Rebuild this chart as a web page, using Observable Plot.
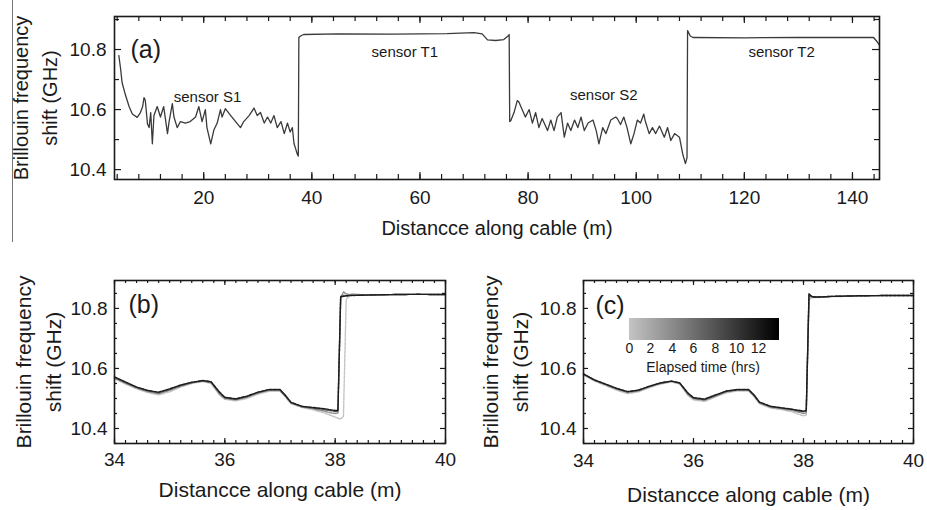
<!DOCTYPE html>
<html><head><meta charset="utf-8">
<script src="https://cdn.jsdelivr.net/npm/d3@7"></script>
<script src="https://cdn.jsdelivr.net/npm/@observablehq/plot@0.6"></script>
<style>
html,body{margin:0;padding:0;background:#fff;}
#root{position:relative;width:927px;height:510px;overflow:hidden;font-family:"Liberation Sans",Arial,sans-serif;color:#1a1a1a;}
.abs{position:absolute;}
svg{overflow:visible;}
</style></head><body><div id="root"></div>
<script>
// ---------- DATA ----------
// Panel (a): full cable trace
const distA = [4.3,4.6,4.9,5.5,6.2,6.8,7.7,8.3,8.7,8.96,9.2,9.6,9.9,10.2,10.5,10.8,11.4,12.0,12.6,13.3,13.6,14.2,14.5,15.1,15.7,16.6,17.5,18.5,19.1,19.7,20.3,20.6,21.3,21.9,22.5,23.1,23.4,24.0,25.0,25.9,26.8,27.4,28.4,29.3,29.9,30.5,31.2,31.8,32.4,33.0,33.6,34.3,34.9,35.5,36.0,36.4,36.7,37.0,37.3,37.5,
  37.6,37.9,38.5,45,55,65,70,71.5,72.5,74,75.5,76.3,76.5,
  76.6,76.8,77.4,78.0,78.3,78.9,79.5,80.2,80.8,81.4,82.0,82.6,83.6,84.2,84.8,85.4,86.1,86.7,87.3,87.9,88.6,89.2,89.8,90.4,91.1,92.0,92.6,93.1,93.8,94.4,95.3,96.2,96.5,97.1,97.7,98.3,99.0,99.6,100.2,100.8,101.4,101.7,102.4,103.0,103.6,104.3,105.2,105.8,106.4,107.1,108.0,108.6,109.1,109.4,
  109.5,110.0,110.5,120,130,140,143.9,144.6,145];
const bfsA = [10.78,10.74,10.69,10.65,10.61,10.585,10.574,10.59,10.61,10.64,10.63,10.552,10.54,10.59,10.486,10.58,10.61,10.575,10.61,10.52,10.56,10.62,10.575,10.54,10.56,10.555,10.56,10.575,10.61,10.56,10.6,10.54,10.486,10.533,10.555,10.6,10.575,10.603,10.58,10.56,10.54,10.56,10.58,10.605,10.58,10.59,10.555,10.575,10.555,10.58,10.54,10.56,10.52,10.555,10.525,10.54,10.487,10.47,10.452,10.445,
  10.84,10.845,10.85,10.852,10.851,10.853,10.856,10.852,10.832,10.83,10.833,10.845,10.85,
  10.56,10.563,10.59,10.63,10.625,10.6,10.575,10.6,10.555,10.59,10.54,10.57,10.53,10.565,10.53,10.575,10.59,10.508,10.555,10.53,10.565,10.54,10.575,10.53,10.555,10.565,10.53,10.486,10.54,10.52,10.565,10.575,10.57,10.55,10.575,10.54,10.486,10.52,10.565,10.555,10.585,10.56,10.52,10.54,10.52,10.545,10.508,10.54,10.497,10.52,10.508,10.452,10.42,10.44,
  10.863,10.845,10.84,10.839,10.84,10.84,10.84,10.825,10.815];
const sensorNames = ["sensor S1","sensor T1","sensor S2","sensor T2"];
const sensorAtDist = [20.7,57.2,94.0,126.9];
const sensorAtBfs = [10.64,10.79,10.647,10.79];

// Panels (b), (c): zoom 34-40 m, traces at several elapsed times (hrs)
const elapsedHrs = [0,4,8,12];
const distZoom = [34.0,34.2,34.4,34.6,34.8,35.0,35.2,35.4,35.6,35.75,35.9,36.0,36.2,36.4,36.6,36.8,37.0,37.1,37.2,37.4,37.6,37.8,37.9,38.0,38.05,38.1,38.15,38.2,38.3,38.5,39.0,39.5,40.0];
const bfsB0h  = [10.565,10.548,10.532,10.520,10.512,10.522,10.538,10.550,10.556,10.550,10.512,10.497,10.492,10.500,10.514,10.524,10.524,10.504,10.482,10.470,10.462,10.452,10.445,10.438,10.434,10.432,10.440,10.830,10.850,10.845,10.846,10.847,10.846];
const bfsB4h  = [10.568,10.551,10.535,10.523,10.516,10.527,10.541,10.552,10.558,10.553,10.516,10.500,10.495,10.504,10.518,10.527,10.527,10.507,10.485,10.472,10.466,10.458,10.453,10.450,10.452,10.835,10.855,10.848,10.845,10.845,10.846,10.847,10.846];
const bfsB8h  = [10.570,10.553,10.537,10.526,10.519,10.530,10.543,10.553,10.559,10.555,10.520,10.502,10.497,10.506,10.520,10.529,10.529,10.509,10.486,10.473,10.468,10.463,10.460,10.457,10.458,10.840,10.843,10.842,10.844,10.845,10.846,10.847,10.846];
const bfsB12h = [10.572,10.555,10.538,10.527,10.521,10.532,10.545,10.554,10.560,10.556,10.522,10.504,10.499,10.508,10.521,10.530,10.530,10.510,10.487,10.474,10.470,10.466,10.463,10.460,10.460,10.838,10.840,10.842,10.843,10.844,10.846,10.847,10.846];
const bfsC0h  = [10.578,10.558,10.543,10.528,10.516,10.522,10.536,10.548,10.555,10.548,10.510,10.495,10.490,10.505,10.519,10.525,10.525,10.506,10.482,10.468,10.463,10.455,10.448,10.442,10.445,10.830,10.835,10.836,10.837,10.839,10.841,10.843,10.843];
const bfsC4h  = [10.580,10.560,10.546,10.531,10.520,10.525,10.539,10.550,10.557,10.550,10.514,10.499,10.494,10.508,10.522,10.528,10.528,10.509,10.485,10.471,10.466,10.460,10.455,10.450,10.452,10.840,10.838,10.837,10.838,10.840,10.842,10.843,10.843];
const bfsC8h  = [10.581,10.561,10.547,10.533,10.522,10.527,10.540,10.551,10.558,10.551,10.516,10.501,10.496,10.510,10.524,10.529,10.529,10.511,10.487,10.473,10.468,10.463,10.459,10.456,10.458,10.845,10.840,10.838,10.838,10.840,10.842,10.843,10.843];
const bfsC12h = [10.582,10.562,10.548,10.534,10.523,10.528,10.541,10.552,10.558,10.552,10.518,10.503,10.498,10.512,10.525,10.530,10.530,10.512,10.488,10.474,10.469,10.464,10.461,10.458,10.460,10.849,10.840,10.838,10.838,10.840,10.842,10.843,10.843];

// Tick labels
const aXTickLabels = [20,40,60,80,100,120,140];
const aYTickLabels = [10.4,10.6,10.8];
const zXTickLabels = [34,36,38,40];
const zYTickLabels = [10.4,10.6,10.8];
const legendTickLabels = [0,2,4,6,8,10,12];

// ---------- BUILD ----------
const FONT = '"Liberation Sans", Arial, Helvetica, sans-serif';
const INK = "#1a1a1a";
const root = document.getElementById("root");
const timeColor = {type:"linear", domain:[0,14], range:["#c4c4c4","#000000"]};

const tableA = distA.map((d,i)=>({d, f:bfsA[i]}));
const seriesB = [bfsB0h,bfsB4h,bfsB8h,bfsB12h];
const seriesC = [bfsC0h,bfsC4h,bfsC8h,bfsC12h];
const tableB = elapsedHrs.flatMap((t,k)=>distZoom.map((d,i)=>({t,d,f:seriesB[k][i]})));
const tableC = elapsedHrs.flatMap((t,k)=>distZoom.map((d,i)=>({t,d,f:seriesC[k][i]})));
const sensors = sensorNames.map((name,i)=>({name, d:sensorAtDist[i], f:sensorAtBfs[i]}));

function panel(c){
  const iw = c.width - c.ml - c.mr, ih = c.height - c.mt - c.mb;
  const ticksX = (vals,len)=>[
    Plot.ruleX(vals,{x:d=>d, insetTop: ih-len, stroke:INK, strokeWidth:1.2}),
    Plot.ruleX(vals,{x:d=>d, insetBottom: ih-len, stroke:INK, strokeWidth:1.2})];
  const ticksY = (vals,len)=>[
    Plot.ruleY(vals,{y:d=>d, insetRight: iw-len, stroke:INK, strokeWidth:1.2}),
    Plot.ruleY(vals,{y:d=>d, insetLeft: iw-len, stroke:INK, strokeWidth:1.2})];
  const svg = Plot.plot({
    width:c.width, height:c.height,
    marginTop:c.mt, marginRight:c.mr, marginBottom:c.mb, marginLeft:c.ml,
    x:{domain:c.xDomain}, y:{domain:c.yDomain},
    color: timeColor,
    style:{fontFamily:FONT, fontSize:c.tickFont+"px", color:INK, background:"transparent"},
    marks:[
      ...c.marks,
      ...ticksX(c.xMinor, c.minLen), ...ticksX(c.xMajor, c.majLen),
      ...ticksY(c.yMinor, c.minLen), ...ticksY(c.yMajor, c.majLen),
      Plot.frame({stroke:INK, strokeWidth:1.6}),
      Plot.axisX({ticks:c.xMajor, tickSize:0, tickPadding:c.xPad, label:null, fontSize:c.tickFont, tickFormat:d=>String(d)}),
      Plot.axisY({ticks:c.yMajor, tickSize:0, tickPadding:c.yPad, label:null, fontSize:c.tickFont, tickFormat:d=>d.toFixed(1)}),
      Plot.text([c.xTitle],{frameAnchor:"bottom", dy:c.xTitleDy, fontSize:c.titleFont, lineAnchor:"middle", textAnchor:"middle", fill:INK}),
      Plot.text([c.yTitle],{frameAnchor:"left", dx:c.yTitleDx, rotate:-90, fontSize:c.titleFont, lineHeight:c.yLine, lineAnchor:"middle", textAnchor:"middle", fill:INK}),
      Plot.text([c.tag],{frameAnchor:"top-left", dx:c.tagDx, dy:c.tagDy, fontSize:c.tagFont, textAnchor:"start", lineAnchor:"middle", fill:INK})
    ]
  });
  svg.style.position="absolute"; svg.style.left=c.left+"px"; svg.style.top=c.top+"px";
  root.appendChild(svg);
}

// artifact separator line at left of panel (a)
const sep = document.createElement("div");
sep.style.cssText="left:12px;top:0;width:1px;height:242px;background:#777;position:absolute;";
root.appendChild(sep);

panel({
  left:0, top:0, width:927, height:250, mt:16, mr:48, mb:71, ml:114,
  xDomain:[3.5,145], yDomain:[10.367,10.91],
  xMajor:aXTickLabels, xMinor:d3.range(4,145,4), yMajor:aYTickLabels, yMinor:[10.5,10.7,10.9],
  majLen:7, minLen:5, tickFont:19, xPad:11, yPad:8,
  xTitle:"Distancce along cable (m)", xTitleDy:49, titleFont:20,
  yTitle:"Brillouin frequency\nshift (GHz)", yTitleDx:-81, yLine:1.45,
  tag:"(a)", tagDx:16, tagDy:33, tagFont:25,
  marks:[
    Plot.line(tableA,{x:"d", y:"f", stroke:"#3a3a3a", strokeWidth:1.3}),
    Plot.text(sensors,{x:"d", y:"f", text:"name", fontSize:15, fill:INK})
  ]
});

const zoomMarks = (table)=>[
  Plot.line(table,{x:"d", y:"f", z:"t", stroke:"t", strokeWidth:1.4, strokeDasharray:"3,1.2"})
];

panel({
  left:0, top:260, width:460, height:250, mt:20, mr:15, mb:67, ml:114,
  xDomain:[34,40], yDomain:[10.35,10.893],
  xMajor:zXTickLabels, xMinor:d3.range(34,40.01,0.2), yMajor:zYTickLabels, yMinor:[10.35,10.45,10.5,10.55,10.65,10.7,10.75,10.85],
  majLen:5, minLen:3, tickFont:19, xPad:9, yPad:7,
  xTitle:"Distancce along cable (m)", xTitleDy:47, titleFont:21,
  yTitle:"Brillouin frequency\nshift (GHz)", yTitleDx:-78, yLine:1.4,
  tag:"(b)", tagDx:14, tagDy:24, tagFont:25,
  marks: zoomMarks(tableB)
});

panel({
  left:460, top:260, width:467, height:250, mt:20, mr:14, mb:67, ml:123,
  xDomain:[34,40], yDomain:[10.35,10.893],
  xMajor:zXTickLabels, xMinor:d3.range(34,40.01,0.2), yMajor:zYTickLabels, yMinor:[10.35,10.45,10.5,10.55,10.65,10.7,10.75,10.85],
  majLen:5, minLen:3, tickFont:19, xPad:10, yPad:7,
  xTitle:"Distancce along cable (m)", xTitleDy:52, titleFont:21,
  yTitle:"Brillouin frequency\nshift (GHz)", yTitleDx:-80, yLine:1.4,
  tag:"(c)", tagDx:12, tagDy:25, tagFont:25,
  marks: zoomMarks(tableC)
});

// colour bar (elapsed time) inside panel (c)
const leg = Plot.legend({
  color: timeColor, label:null, width:152, height:38, marginTop:0, marginBottom:16, marginLeft:1, marginRight:1,
  ticks: legendTickLabels, tickSize:0,
  style:{fontSize:"14px", fontFamily:FONT, color:INK}
});
leg.querySelectorAll(".tick line").forEach(l=>l.remove());
leg.querySelectorAll(".domain").forEach(l=>l.remove());
leg.style.position="absolute"; leg.style.left="628px"; leg.style.top="318px";
root.appendChild(leg);
const legTitle = document.createElement("div");
legTitle.textContent = "Elapsed time (hrs)";
legTitle.style.cssText = "position:absolute;left:603px;width:200px;top:359px;text-align:center;font-size:14px;color:#1a1a1a;font-family:"+FONT+";";
root.appendChild(legTitle);
</script></body></html>
